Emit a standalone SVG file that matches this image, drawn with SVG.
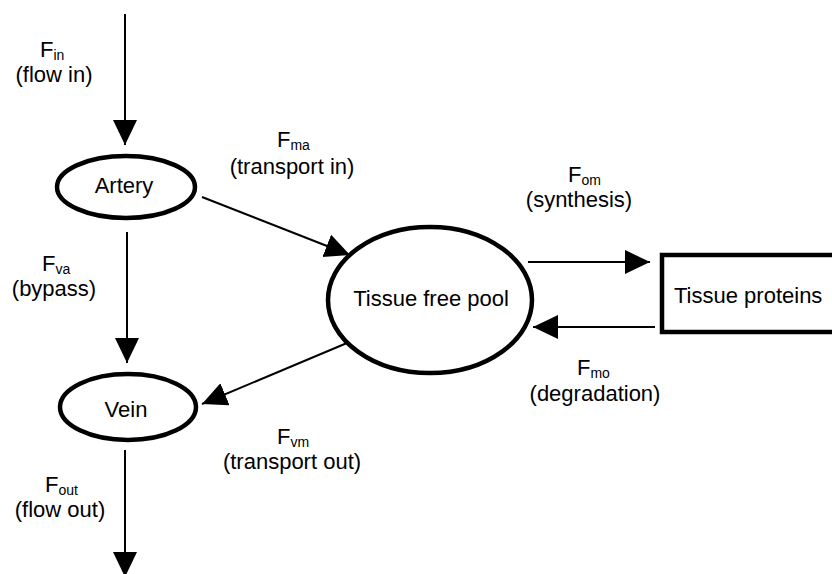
<svg xmlns="http://www.w3.org/2000/svg" width="832" height="574" viewBox="0 0 832 574">
<style>
  text { font-family: "Liberation Sans", Arial, sans-serif; font-size: 22px; fill: #000; }
  .sub { font-size: 14px; }
  .mid { text-anchor: middle; }
  .node { fill: #fff; stroke: #000; stroke-width: 4.5; }
  .edge { stroke: #000; stroke-width: 2; fill: none; marker-end: url(#ah); }
</style>
<defs>
  <marker id="ah" markerUnits="userSpaceOnUse" markerWidth="26" markerHeight="26" refX="25" refY="12" orient="auto">
    <path d="M0,0 L25,12 L0,24 Z" fill="#000"/>
  </marker>
</defs>
<g id="connectors">
  <line class="edge" x1="125" y1="14" x2="125" y2="145"/>
  <line class="edge" x1="127" y1="232" x2="127" y2="363"/>
  <line class="edge" x1="125" y1="450" x2="125" y2="577"/>
  <line class="edge" x1="202" y1="197" x2="350" y2="255"/>
  <line class="edge" x1="347" y1="343" x2="202" y2="404"/>
  <line class="edge" x1="528" y1="262" x2="650" y2="262"/>
  <line class="edge" x1="655" y1="327" x2="533" y2="327"/>
</g>
<g id="artery">
  <ellipse class="node" cx="126" cy="187" rx="69" ry="31"/>
  <text class="mid" x="124" y="193">Artery</text>
</g>
<g id="vein">
  <ellipse class="node" cx="128" cy="407" rx="68" ry="33"/>
  <text class="mid" x="126" y="417">Vein</text>
</g>
<g id="pool">
  <ellipse class="node" cx="430" cy="300" rx="102" ry="73"/>
  <text class="mid" x="431" y="306">Tissue free pool</text>
</g>
<g id="proteins">
  <rect class="node" x="662" y="255" width="200" height="77"/>
  <text x="674" y="303">Tissue proteins</text>
</g>
<g id="labels">
  <text x="40" y="57">F<tspan class="sub" dy="3">in</tspan></text>
  <text class="mid" x="54" y="82">(flow in)</text>
  <text x="277" y="147">F<tspan class="sub" dy="3">ma</tspan></text>
  <text class="mid" x="292" y="174">(transport in)</text>
  <text x="42" y="271">F<tspan class="sub" dy="3">va</tspan></text>
  <text class="mid" x="54" y="296">(bypass)</text>
  <text x="45" y="492">F<tspan class="sub" dy="3">out</tspan></text>
  <text class="mid" x="60" y="517">(flow out)</text>
  <text x="277" y="444">F<tspan class="sub" dy="3">vm</tspan></text>
  <text class="mid" x="292" y="469">(transport out)</text>
  <text x="568" y="182">F<tspan class="sub" dy="3">om</tspan></text>
  <text class="mid" x="579" y="207">(synthesis)</text>
  <text x="577" y="375">F<tspan class="sub" dy="3">mo</tspan></text>
  <text class="mid" x="595" y="401">(degradation)</text>
</g>
</svg>
